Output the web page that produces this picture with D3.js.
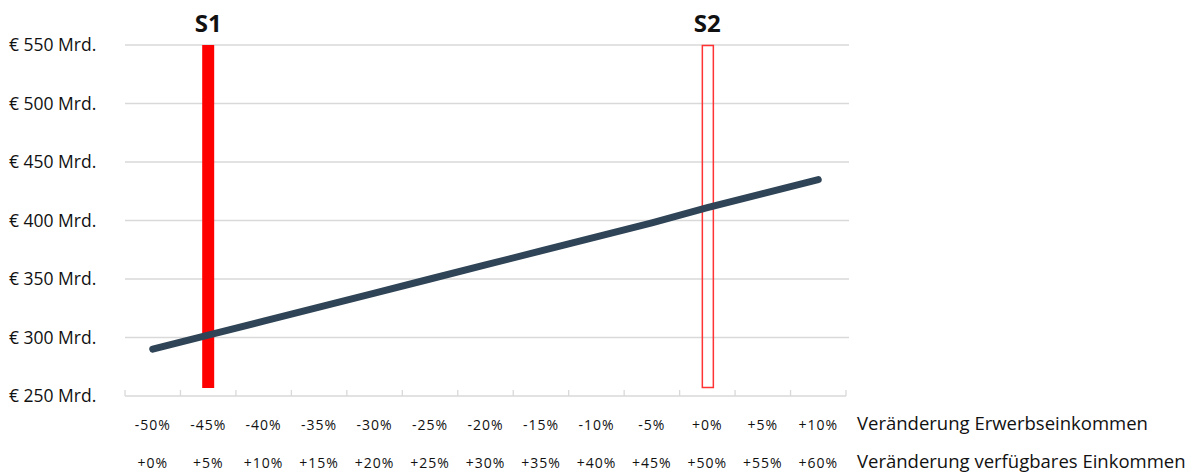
<!DOCTYPE html>
<html><head><meta charset="utf-8">
<script src="https://cdn.jsdelivr.net/npm/d3@7"></script>
<style>body{margin:0;background:#fff;} text{font-family:"Open Sans",sans-serif;}</style>
</head><body><svg id="c" width="1198" height="475"></svg>
<script>
const erwerb = ["-50%","-45%","-40%","-35%","-30%","-25%","-20%","-15%","-10%","-5%","+0%","+5%","+10%"];
const verfuegbar = ["+0%","+5%","+10%","+15%","+20%","+25%","+30%","+35%","+40%","+45%","+50%","+55%","+60%"];
const values = [290, 302, 314, 326, 338, 350, 362, 374, 386, 398, 411, 423, 435];
const yTicks = [250, 300, 350, 400, 450, 500, 550];
const markers = [{label:"S1", cat:"-45%", filled:true},{label:"S2", cat:"+0%", filled:false}];
const rowTitles = ["Veränderung Erwerbseinkommen","Veränderung verfügbares Einkommen"];

const svg = d3.select("#c");
const x = d3.scaleBand().domain(erwerb).range([125, 846]);
const y = d3.scaleLinear().domain([250, 550]).range([396, 45]);

// grid
svg.append("g").selectAll("line").data(yTicks.slice(1)).join("line")
  .attr("x1", 125).attr("x2", 849).attr("y1", d=>y(d)).attr("y2", d=>y(d))
  .attr("stroke", "#d9d9d9").attr("stroke-width", 1.3);
// y labels
svg.append("g").selectAll("text").data(yTicks).join("text")
  .attr("x", 9).attr("y", d=>y(d)+6).attr("font-size", 17.5).attr("fill","#111")
  .text(d=>"€ " + d + " Mrd.");
// x axis line + ticks
svg.append("line").attr("x1",125).attr("x2",846).attr("y1",y(250)).attr("y2",y(250))
  .attr("stroke","#d9d9d9").attr("stroke-width",1.3);
const tickPos = erwerb.map(c=>x(c)).concat([x.range()[1]]);
svg.append("g").selectAll("line").data(tickPos).join("line")
  .attr("x1",d=>d).attr("x2",d=>d).attr("y1",y(250)-6).attr("y2",y(250))
  .attr("stroke","#d9d9d9").attr("stroke-width",1.3);

// markers
markers.forEach(m=>{
  const cx = x(m.cat) + x.bandwidth()/2;
  if (m.filled) {
    svg.append("rect").attr("x", cx-6).attr("y", y(550)).attr("width", 12).attr("height", 388-y(550)).attr("fill","#ff0000");
  } else {
    svg.append("rect").attr("x", cx-5).attr("y", y(550)+0.5).attr("width", 11).attr("height", 388-y(550)-1)
      .attr("fill","none").attr("stroke","#ff3333").attr("stroke-width",1.5);
  }
  svg.append("text").attr("x", cx).attr("y", 32).attr("text-anchor","middle")
    .attr("font-size", 24).attr("font-weight","bold").attr("fill","#111").text(m.label);
});

// line
const line = d3.line().x((d,i)=>x(erwerb[i])+x.bandwidth()/2).y(d=>y(d));
svg.append("path").datum(values).attr("d", line).attr("fill","none")
  .attr("stroke","#2f4456").attr("stroke-width",7).attr("stroke-linecap","round").attr("stroke-linejoin","round");

// x labels
[erwerb, verfuegbar].forEach((arr, r)=>{
  svg.append("g").selectAll("text").data(arr).join("text")
    .attr("x",(d,i)=>x(erwerb[i])+x.bandwidth()/2).attr("y", r===0?430:468)
    .attr("text-anchor","middle").attr("font-size",14).attr("fill","#111").attr("letter-spacing","1")
    .text(d=>d);
  svg.append("text").attr("x", 857).attr("y", r===0?430:468).attr("font-size",18.5).attr("fill","#111").text(rowTitles[r]);
});
</script></body></html>
